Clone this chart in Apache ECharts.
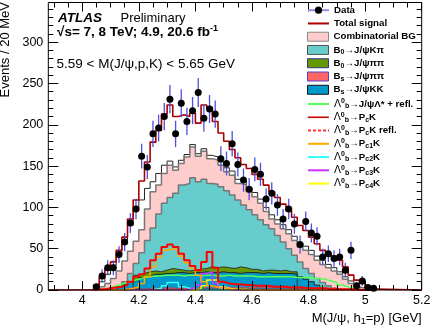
<!DOCTYPE html>
<html><head><meta charset="utf-8">
<script src="https://cdn.jsdelivr.net/npm/echarts@6/dist/echarts.min.js"></script>
<style>html,body{margin:0;padding:0;background:#fff}#c{width:432px;height:332px}</style>
</head><body><div id="c"></div>
<script>
// ---- data (bin centres in GeV, bins of 20 MeV) ----
const binCenters = [4.05,4.07,4.09,4.11,4.13,4.15,4.17,4.19,4.21,4.23,4.25,4.27,4.29,4.31,4.33,4.35,4.37,4.39,4.41,4.43,4.45,4.47,4.49,4.51,4.53,4.55,4.57,4.59,4.61,4.63,4.65,4.67,4.69,4.71,4.73,4.75,4.77,4.79,4.81,4.83,4.85,4.87,4.89,4.91,4.93,4.95,4.97,4.99,5.01,5.03];
const dataCounts = [4,17,27,27,43,58,81,98,162,149,189,196,210,231,189,226,204,217,239,208,219,213,159,153,177,152,133,122,146,140,110,117,103,86,98,80,55,83,69,65,40,44,38,40,24,48,5,11,3,2];
const dataErrors = [4,8,9,9,10,11,12,12.5,15,14.5,16,16,16.5,17,16,17,16.5,16.5,17.5,16.5,17,16.5,15,14.5,15.5,14.5,14,13.5,14.5,14,13,13.5,13,12,12.5,12,11,12,11.5,11,10,10,10,10,9,10.5,5,6,3,2];
const totalSignal = [6,15,26,34,48,64,86,109,132,155,179,193,213,224,210,212,210,214,202,224,221,204,190,180,170,160,152,147,140,134,127,119,112,104,96,88,78,72,64,56,48,44,41,36,28,18,12,8,3,1];
const bkgEnvelope = [3,10,19,30,44,60,78,97,109,123,131,141,151,156,149,157,164,176,165,171,163,161,155,148,144,134,132,124,118,110,100,91,85,79,73,65,57,53,48,41,36,31,27,22,16,11,6,3,1,0];
const combBG = [0,4,8,14,23,35,47,59,73,98,119,127,141,151,145,153,161,173,162,168,159,157,151,143,139,129,127,119,113,105,95,86,80,74,68,60,52,48,43,36,31,27,23,19,13,8,4,2,1,0];
const b0Kpi = [0,0,0,0,4,10,20,32,45,60,75,92,105,112,117,127,129,136,131,134,129,128,125,120,115,109,103,97,91,85,79,74,66,58,50,42,34,26,20,14,9,5,2,0,0,0,0,0,0,0];
const b0PiPi = [0,0,0,0,0,0,0,18,20,22,23,22,24,26,25,24,23,24,25,26,28,27,28,27,26,28,27,25,25,23,24,24,23,24,22,22,0,0,0,0,0,0,0,0,0,0,0,0,0,0];
const bsPiPi = [0,0,0,0,0,1,1,1,1,1,1,1,1,1,1,1,1,1,1,1,1,1,1,1,1,1,1,1,1,1,1,1,1,1,1,1,1,1,1,0,0,0,0,0,0,0,0,0,0,0];
const bsKK = [0,0,0,0,3,7,10,12,15,17,19,19,20,20,21,21,20,21,21,22,21,21,22,21,21,20,21,21,21,20,21,20,20,20,20,19,16,13,10,6,0,0,0,0,0,0,0,0,0,0];
const lbLambdaStar = [0,1,3,5,7,9,11,13,15,16,17,17,18,18,18,17,18,18,17,18,18,17,17,18,17,17,17,17,16,16,16,16,16,16,16,15,15,15,14,14,13,11,9,6,4,2,1,0,0,0];
const lbPcK = [1,1,2,3,4,6,10,16,19,26,36,44,52,55,52,44,36,29,24,34,46,27,10,8,7,7,6,6,5,5,5,4,4,4,3,3,3,2,2,2,2,1,1,1,1,1,0,0,0,0];
const lbPcKRefl = [0,0,0,0,0,1,1,1,1,1,2,2,2,2,2,2,2,2,3,3,3,3,3,3,3,3,3,3,3,3,3,3,3,3,3,3,3,2,2,2,2,2,2,1,1,1,1,0,0,0];
const pc1 = [0,0,0,0,0,1,2,4,8,16,28,40,48,50,48,41,33,26,18,10,5,3,2,1,1,1,1,0,0,0,0,0,0,0,0,0,0,0,0,0,0,0,0,0,0,0,0,0,0,0];
const pc2 = [0,0,0,0,0,0,0,0,0,0,1,2,5,9,9,4,2,1,0,0,0,0,0,0,0,0,0,0,0,0,0,0,0,0,0,0,0,0,0,0,0,0,0,0,0,0,0,0,0,0];
const pc3 = [0,0,0,0,0,0,0,0,0,0,0,0,0,0,0,0,1,3,6,20,22,8,3,1,0,0,0,0,0,0,0,0,0,0,0,0,0,0,0,0,0,0,0,0,0,0,0,0,0,0];
const pc4 = [0,0,0,0,0,0,0,0,0,0,0,0,0,0,0,0,0,0,1,5,12,12,4,2,1,0,0,0,0,0,0,0,0,0,0,0,0,0,0,0,0,0,0,0,0,0,0,0,0,0];
const xMajorTicks = [4,4.2,4.4,4.6,4.8,5,5.2];
const xMinorTicks = [3.9,3.95,4.05,4.1,4.15,4.25,4.3,4.35,4.45,4.5,4.55,4.65,4.7,4.75,4.85,4.9,4.95,5.05,5.1,5.15];
const yMajorTicks = [0,50,100,150,200,250,300];
const yMinorTicks = [10,20,30,40,60,70,80,90,110,120,130,140,160,170,180,190,210,220,230,240,260,270,280,290,310,320,330,340];
const xMin = 3.88, xMax = 5.2, yMin = 0, yMax = 348;
const binHalf = 0.01;

function stepData(vals, extend) {
  const pts = [];
  const lo0 = binCenters[0] - binHalf;
  const hiN = binCenters[vals.length - 1] + binHalf;
  if (extend) pts.push([xMin, 0]);
  pts.push([lo0, 0]);
  for (let i = 0; i < vals.length; i++) pts.push([binCenters[i] - binHalf, vals[i]]);
  pts.push([hiN, vals[vals.length - 1]]);
  pts.push([hiN, 0]);
  if (extend) pts.push([xMax, 0]);
  return pts;
}
function fillHist(name, vals, fill, line, lw) {
  return {type:'line', name, step:'end', symbol:'none', data: stepData(vals), z:2,
    itemStyle:{color:fill}, lineStyle:{color:line, width:lw}, areaStyle:{color:fill, opacity:1}, emphasis:{disabled:true}};
}
function lineHist(name, vals, color, lw, type, extend) {
  return {type:'line', name, step:'end', symbol:'none', data: stepData(vals, extend), z:2,
    itemStyle:{color}, lineStyle:{color, width:lw, type:type||'solid'}, emphasis:{disabled:true}};
}

const FF = 'Liberation Sans';
const series = [
  fillHist('bkgEnvelope', bkgEnvelope, '#ffffff', '#222222', 1),
  fillHist('Combinatorial BG', combBG, '#ffcccc', '#777777', 1.5),
  fillHist('B0→J/ψKπ', b0Kpi, '#66cccc', '#777777', 1.5),
  fillHist('B0→J/ψππ', b0PiPi, '#669900', '#333333', 1),
  fillHist('Bs→J/ψKK', bsKK, '#0099cc', '#222222', 1),
  fillHist('Bs→J/ψππ', bsPiPi, '#ff6666', '#663333', 1),
  lineHist('Λb→J/ψΛ* + refl.', lbLambdaStar, '#55ff55', 1.5),
  lineHist('Λb→PcK refl.', lbPcKRefl, '#ff3333', 1.5, [3,2]),
  lineHist('Λb→Pc2K', pc2, '#33ffff', 1.5),
  lineHist('Λb→Pc4K', pc4, '#ffff00', 1.5),
  lineHist('Λb→Pc3K', pc3, '#cc33ff', 1.5),
  lineHist('Λb→Pc1K', pc1, '#ffaa00', 1.5),
  lineHist('Λb→PcK', lbPcK, '#ff0000', 2),
  lineHist('Total signal', totalSignal, '#aa0000', 1.6, 'solid', true),
  {type:'custom', name:'errors', z:3, clip:true, silent:true,
    data: binCenters.map((c,i)=>[c, dataCounts[i]-dataErrors[i], dataCounts[i]+dataErrors[i]]),
    encode:{x:0, y:[1,2]},
    renderItem:(params, api)=>{
      const p1 = api.coord([api.value(0), api.value(1)]);
      const p2 = api.coord([api.value(0), api.value(2)]);
      return {type:'line', shape:{x1:p1[0], y1:p1[1], x2:p2[0], y2:p2[1]}, style:{stroke:'#4f4fe0', lineWidth:1.3}};
    }},
  {type:'line', name:'Data', z:4, symbol:'circle', symbolSize:7,
    data: binCenters.map((c,i)=>[c, dataCounts[i]]),
    itemStyle:{color:'#000'}, lineStyle:{opacity:0, color:'#8f8fe8', width:2}, emphasis:{disabled:true}}
];

const legendLabels = {
  'Data':'{t|Data}',
  'Total signal':'{t|Total signal}',
  'Combinatorial BG':'{t|Combinatorial BG}',
  'B0→J/ψKπ':'{t|B}{s|0}{t|→J/ψKπ}',
  'B0→J/ψππ':'{t|B}{s|0}{t|→J/ψππ}',
  'Bs→J/ψππ':'{t|B}{s|s}{t|→J/ψππ}',
  'Bs→J/ψKK':'{t|B}{s|s}{t|→J/ψKK}',
  'Λb→J/ψΛ* + refl.':'{g|Λ}{u|0}{s|b}{t|→J/ψΛ* + refl.}',
  'Λb→PcK':'{g|Λ}{u|0}{s|b}{t|→P}{s|c}{t|K}',
  'Λb→PcK refl.':'{g|Λ}{u|0}{s|b}{t|→P}{s|c}{t|K refl.}',
  'Λb→Pc1K':'{g|Λ}{u|0}{s|b}{t|→P}{s|c1}{t|K}',
  'Λb→Pc2K':'{g|Λ}{u|0}{s|b}{t|→P}{s|c2}{t|K}',
  'Λb→Pc3K':'{g|Λ}{u|0}{s|b}{t|→P}{s|c3}{t|K}',
  'Λb→Pc4K':'{g|Λ}{u|0}{s|b}{t|→P}{s|c4}{t|K}'
};
const legendItems = [
  {name:'Data', lineStyle:{opacity:1, color:'#8f8fe8', width:2}, itemStyle:{color:'#000', opacity:1}},
  {name:'Total signal', itemStyle:{opacity:0}},
  {name:'Combinatorial BG', icon:'rect', itemStyle:{color:'#ffcccc', borderColor:'#888888', borderWidth:1}},
  {name:'B0→J/ψKπ', icon:'rect', itemStyle:{color:'#66cccc', borderColor:'#555555', borderWidth:1}},
  {name:'B0→J/ψππ', icon:'rect', itemStyle:{color:'#669900', borderColor:'#333399', borderWidth:1}},
  {name:'Bs→J/ψππ', icon:'rect', itemStyle:{color:'#ff6666', borderColor:'#5544cc', borderWidth:1}},
  {name:'Bs→J/ψKK', icon:'rect', itemStyle:{color:'#0099cc', borderColor:'#111111', borderWidth:1}},
  {name:'Λb→J/ψΛ* + refl.', itemStyle:{opacity:0}},
  {name:'Λb→PcK', itemStyle:{opacity:0}, lineStyle:{color:'#cc0000', width:1.6}},
  {name:'Λb→PcK refl.', itemStyle:{opacity:0}},
  {name:'Λb→Pc1K', itemStyle:{opacity:0}},
  {name:'Λb→Pc2K', itemStyle:{opacity:0}},
  {name:'Λb→Pc3K', itemStyle:{opacity:0}},
  {name:'Λb→Pc4K', itemStyle:{opacity:0}}
];
const legRich = {
  t:{fontFamily:FF, fontWeight:'bold', fontSize:9.7, lineHeight:12, color:'#000'},
  g:{fontFamily:FF, fontWeight:'normal', fontSize:10.5, lineHeight:12, color:'#000'},
  s:{fontFamily:FF, fontWeight:'bold', fontSize:7, lineHeight:7, verticalAlign:'bottom', color:'#000'},
  u:{fontFamily:FF, fontWeight:'bold', fontSize:7, lineHeight:7, verticalAlign:'top', color:'#000'}
};
const legends = legendItems.map((it, i) => ({
  left:307, top:5.2 + 13.26*i, orient:'vertical', padding:0, itemWidth:21, itemHeight:9, z:12,
  selectedMode:false, data:[it], formatter:(n)=>legendLabels[n],
  textStyle:{fontFamily:FF, fontWeight:'bold', fontSize:9.7, color:'#000', rich:legRich}
}));

const labStyle = {fontFamily:FF, fontSize:12.5, color:'#000'};
const tickLine = {color:'#000', width:1};
function xAx(grid, pos, ticks, len, labels) {
  return {type:'value', gridIndex:grid, position:pos, min:xMin, max:xMax, z:10,
    axisLine:{show:false, onZero:false}, splitLine:{show:false},
    axisTick:{show:true, inside:true, length:len, customValues:ticks, lineStyle:tickLine},
    axisLabel: labels ? {show:true, customValues:ticks, margin:4, ...labStyle} : {show:false}};
}
function yAx(grid, pos, ticks, len, labels) {
  return {type:'value', gridIndex:grid, position:pos, min:yMin, max:yMax, z:10,
    axisLine:{show:false, onZero:false}, splitLine:{show:false},
    axisTick:{show:true, inside:true, length:len, customValues:ticks, lineStyle:tickLine},
    axisLabel: labels ? {show:true, customValues:ticks, margin:5, ...labStyle} : {show:false}};
}
const xMain = xAx(0, 'bottom', xMajorTicks, 9, true);
Object.assign(xMain, {
  name:'{t|M(J/ψ, h}{s|1}{t|=p) [GeV]}', nameLocation:'end', nameGap:0, nameMoveOverlap:false,
  nameTextStyle:{align:'right', verticalAlign:'top', padding:[21,0,0,0],
    rich:{t:{fontFamily:FF, fontSize:13, lineHeight:15, color:'#000'}, s:{fontFamily:FF, fontSize:9, lineHeight:9, verticalAlign:'bottom', color:'#000'}}}
});
const gridRect = {left:48.3, right:10.3, top:2.5, bottom:42, outerBoundsMode:'none', containLabel:false};

const option = {
  animation:false,
  backgroundColor:'#fff',
  grid:[
    {...gridRect, show:true, z:10, borderColor:'#000', borderWidth:1, backgroundColor:'transparent'},
    {...gridRect, show:false}
  ],
  xAxis:[xMain, xAx(0, 'top', xMajorTicks, 9, false), xAx(1, 'bottom', xMinorTicks, 5, false), xAx(1, 'top', xMinorTicks, 5, false)],
  yAxis:[yAx(0, 'left', yMajorTicks, 10, true), yAx(0, 'right', yMajorTicks, 10, false), yAx(1, 'left', yMinorTicks, 5, false), yAx(1, 'right', yMinorTicks, 5, false)],
  title:[
    {text:'ATLAS', left:58, top:10, padding:0, textStyle:{fontFamily:FF, fontStyle:'italic', fontWeight:'bold', fontSize:13.5, lineHeight:16, color:'#000'}},
    {text:'Preliminary', left:120.5, top:10, padding:0, textStyle:{fontFamily:FF, fontWeight:'normal', fontSize:13, lineHeight:16, color:'#000'}},
    {text:'{n|√s= 7, 8 TeV; 4.9, 20.6 fb}{p|-1}', left:57, top:24, padding:0,
      textStyle:{rich:{n:{fontFamily:FF, fontSize:13.5, lineHeight:16, color:'#000'}, p:{fontFamily:FF, fontSize:9, lineHeight:9, verticalAlign:'top', color:'#000'}}}},
    {text:'5.59 < M(J/ψ,p,K) < 5.65 GeV', left:56.5, top:56, padding:0, textStyle:{fontFamily:FF, fontWeight:'normal', fontSize:13.5, lineHeight:16, color:'#000'}}
  ],
  graphic:[
    {type:'text', x:5.5, y:2, rotation:Math.PI/2, silent:true,
      style:{text:'Events / 20 MeV', font:'13px "Liberation Sans"', fill:'#000', align:'right', verticalAlign:'middle', textAlign:'right', textVerticalAlign:'middle'}}
  ],
  legend: legends,
  series
};
const chart = echarts.init(document.getElementById('c'), null, {renderer:'canvas'});
chart.setOption(option);
</script>
</body></html>
